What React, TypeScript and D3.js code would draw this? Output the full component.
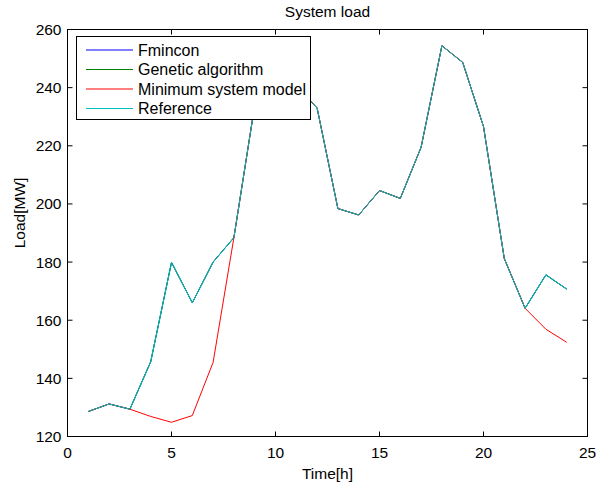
import React from "react";
import * as d3 from "d3";

const hours = [1, 2, 3, 4, 5, 6, 7, 8, 9, 10, 11, 12, 13, 14, 15, 16, 17, 18, 19, 20, 21, 22, 23, 24];
const reference = [128.6, 131.2, 129.4, 145.7, 179.9, 166.0, 180.0, 188.4, 233.9, 242.0, 240.6, 233.0, 198.4, 196.2, 204.6, 201.9, 219.5, 254.4, 248.7, 226.6, 181.2, 164.1, 175.6, 170.7];
const fmincon = [128.6, 131.2, 129.4, 145.7, 179.9, 166.0, 180.0, 188.4, 233.9, 242.0, 240.6, 233.0, 198.4, 196.2, 204.6, 201.9, 219.5, 254.4, 248.7, 226.6, 181.2, 164.1, 175.6, 170.7];
const genetic = [128.6, 131.2, 129.4, 145.7, 179.9, 166.0, 180.0, 188.4, 233.9, 242.0, 240.6, 233.0, 198.4, 196.2, 204.6, 201.9, 219.5, 254.4, 248.7, 226.6, 181.2, 164.1, 175.6, 170.7];
const minModel = [128.6, 131.2, 129.4, 126.9, 124.9, 127.2, 145.5, 188.4, 233.9, 242.0, 240.6, 233.0, 198.4, 196.2, 204.6, 201.9, 219.5, 254.4, 248.7, 226.6, 181.2, 164.1, 156.9, 152.4];

const seriesNames = ["Fmincon", "Genetic algorithm", "Minimum system model", "Reference"];
const seriesColors = ["#0000ff", "#008000", "#ff0000", "#00bfbf"];
const xTicks = [0, 5, 10, 15, 20, 25];
const yTicks = [120, 140, 160, 180, 200, 220, 240, 260];

const W = 596;
const H = 487;
const L = 67.5, R = 587.5, T = 29.5, B = 436.5;
const FONT = "'Liberation Sans', Arial, sans-serif";
const FS = 15.5;
const LFS = 16;

export default function App() {
  const x = d3.scaleLinear().domain([0, 25]).range([L, R]);
  const y = d3.scaleLinear().domain([120, 260]).range([B, T]);
  const seriesData = [fmincon, genetic, minModel, reference];
  const line = d3
    .line<number>()
    .x((_, i) => x(hours[i]))
    .y((d) => y(d));
  const tickLen = 5;
  const lgX = 76.5, lgY = 36.5, lgW = 234, lgH = 83;
  const rowY = [50, 69.5, 89, 108.5];

  return (
    <svg width={W} height={H} style={{ position: "absolute", left: 0, top: 0, background: "#fff" }}>
      <rect x={0} y={0} width={W} height={H} fill="#fff" />
      {seriesData.map((s, i) => (
        <path key={i} d={line(s) || ""} fill="none" stroke={seriesColors[i]} strokeWidth={1} />
      ))}
      <rect x={L} y={T} width={R - L} height={B - T} fill="none" stroke="#000" strokeWidth={1} />
      {xTicks.map((t) => (
        <g key={"x" + t}>
          <line x1={x(t)} x2={x(t)} y1={B} y2={B - tickLen} stroke="#000" />
          <line x1={x(t)} x2={x(t)} y1={T} y2={T + tickLen} stroke="#000" />
          <text x={x(t)} y={B + 21} textAnchor="middle" fontFamily={FONT} fontSize={FS} fill="#000">
            {t}
          </text>
        </g>
      ))}
      {yTicks.map((t) => (
        <g key={"y" + t}>
          <line x1={L} x2={L + tickLen} y1={y(t)} y2={y(t)} stroke="#000" />
          <line x1={R} x2={R - tickLen} y1={y(t)} y2={y(t)} stroke="#000" />
          <text x={L - 6} y={y(t) + 5.5} textAnchor="end" fontFamily={FONT} fontSize={FS} fill="#000">
            {t}
          </text>
        </g>
      ))}
      <text x={(L + R) / 2} y={17} textAnchor="middle" fontFamily={FONT} fontSize={FS} fill="#000">
        System load
      </text>
      <text x={(L + R) / 2} y={479} textAnchor="middle" fontFamily={FONT} fontSize={FS} fill="#000">
        Time[h]
      </text>
      <text
        transform={`translate(25,${213}) rotate(-90)`}
        textAnchor="middle"
        fontFamily={FONT}
        fontSize={FS}
        fill="#000"
      >
        Load[MW]
      </text>
      <rect x={lgX} y={lgY} width={lgW} height={lgH} fill="#fff" stroke="#000" strokeWidth={1} />
      {seriesNames.map((n, i) => (
        <g key={n}>
          <line x1={86} x2={133} y1={rowY[i]} y2={rowY[i]} stroke={seriesColors[i]} strokeWidth={1} />
          <text x={138} y={rowY[i] + 5.5} fontFamily={FONT} fontSize={LFS} fill="#000">
            {n}
          </text>
        </g>
      ))}
    </svg>
  );
}
